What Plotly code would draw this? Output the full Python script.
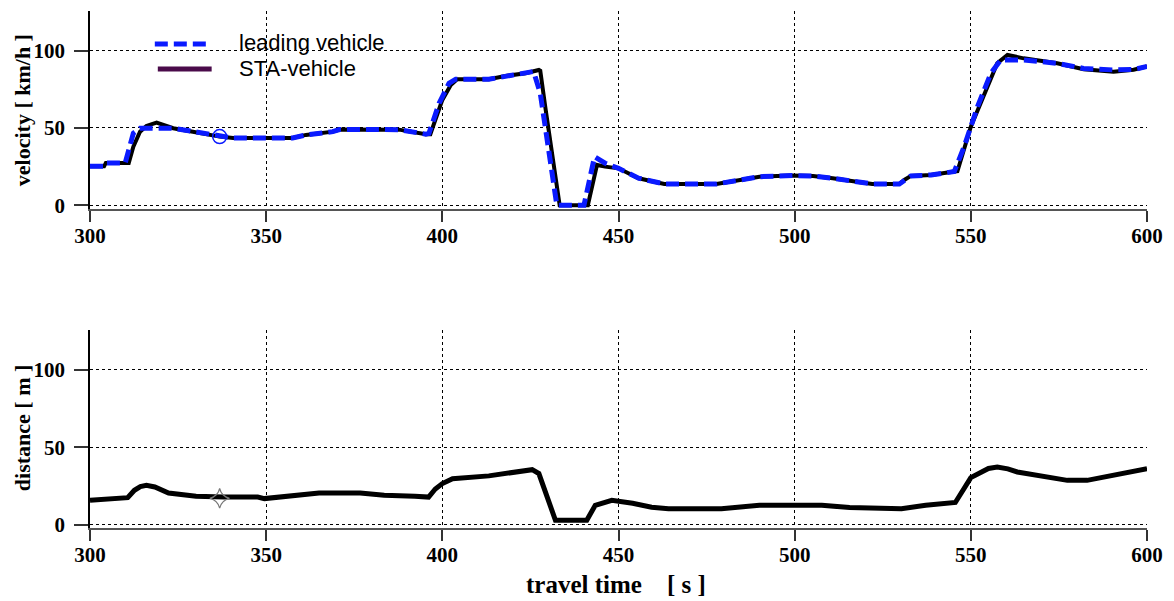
import plotly.graph_objects as go

# ---------------- data ----------------
t_lead = [300, 304, 304.5, 310, 312.3, 314.2, 323.6, 329.2, 333, 336.8, 340.6, 357.5, 361.3, 368.9, 370.8,
          387.7, 395.3, 396.2, 399.1, 401.9, 403.8, 413.2, 417.9, 423.6, 425.9, 427.8, 431.1, 432.5, 440.2,
          441.6, 443.2, 446.2, 450, 455.7, 461.8, 463, 477.8, 478.8, 482.5, 490, 499.5, 505.2, 510.8, 518.4,
          522, 529.7, 531.1, 533, 538.7, 545.3, 548.1, 551.9, 555.7, 558.5, 565, 574.5, 582, 590.5, 596.2, 600]
v_lead = [25.2, 25.2, 27.4, 27.4, 46.6, 49.8, 49.8, 47.6, 45.9, 44.4, 43.5, 43.5, 45.5, 47.6, 49.0,
          48.9, 46.0, 46.5, 66.0, 78.9, 81.5, 81.5, 83.6, 85.4, 86.5, 72.4, 22.8, 0, 0,
          15.0, 31.4, 27.2, 23.9, 17.5, 14.2, 13.8, 13.8, 14.2, 15.9, 18.5, 19.2, 19.0, 17.5, 14.9,
          13.8, 13.8, 16.4, 19.0, 19.6, 21.8, 37.9, 63.8, 85.4, 94.0, 94.0, 91.8, 88.5, 87.5, 87.8, 89.7]

t_sta = [300, 304, 304.5, 311, 312.3, 314.2, 316, 318.9, 321.7, 323.6, 329.2, 333, 336.8, 340.6, 357.5,
         361.3, 368.9, 370.8, 387.7, 395.3, 396.6, 400, 402.4, 404.2, 413.2, 417.9, 423.6, 427.4, 427.8,
         429.2, 431.1, 433.3, 441.3, 443.9, 446.2, 450, 455.7, 461.8, 463, 477.8, 478.8, 482.5, 490, 499.5,
         505.2, 510.8, 518.4, 522, 529.7, 531.1, 533, 538.7, 545.3, 546.2, 550, 553.8, 557.5, 560.4, 565,
         574.5, 582, 590.5, 596.2, 600]
v_sta = [25.2, 25.2, 27.4, 27.4, 37.9, 47.6, 51.3, 53.5, 51.3, 49.8, 47.6, 45.9, 44.4, 43.5, 43.5,
         45.5, 47.6, 49.0, 48.9, 46.0, 46.0, 68.1, 77.8, 81.5, 81.5, 83.6, 85.4, 87.5, 87.0,
         63.8, 33.6, 0, 0, 26.1, 25.0, 23.9, 17.5, 14.2, 13.8, 13.8, 14.2, 15.9, 18.5, 19.2,
         19.0, 17.5, 14.9, 13.8, 13.8, 16.4, 19.0, 19.6, 21.8, 22.0, 50.8, 72.4, 91.8, 97.2, 95.0,
         91.8, 88.0, 86.4, 87.6, 89.7]

t_dist = [300, 310.7, 312.6, 314.3, 316, 318.4, 322.3, 330.1, 337.9, 347.6, 349.5, 357.3, 365, 376.7, 383.5,
          392.2, 396.1, 398, 400, 402.9, 410.7, 413.2, 425.5, 427.4, 432.1, 441, 443.4, 448.1, 454, 459.4,
          464.2, 479.2, 490, 507.7, 515.6, 522.5, 530.3, 537.2, 545.6, 550, 552.8, 555, 557.5, 560.5, 563.2,
          570.8, 577.4, 583, 589.6, 595.3, 600]
d_dist = [15.7, 17.4, 22.2, 24.6, 25.4, 24.3, 20.4, 18.3, 17.8, 17.8, 16.8, 18.3, 20.4, 20.4, 18.9,
          18.3, 17.8, 23.0, 26.5, 29.7, 30.7, 31.5, 35.5, 33.0, 2.8, 2.8, 12.5, 15.7, 13.8, 11.2,
          10.3, 10.3, 12.5, 12.5, 11.0, 10.3, 10.3, 12.5, 14.3, 30.4, 34.0, 36.3, 37.2, 36.0, 34.0,
          30.8, 28.6, 28.6, 31.8, 34.6, 36.2]

cursor_t = [336.8]
cursor_v = [44.4]
cursor_d = [17.0]

x_ticks = [300, 350, 400, 450, 500, 550, 600]
y_ticks = [0, 50, 100]
legend_names = ["leading vehicle", "STA-vehicle"]

# ---------------- style ----------------
W, H = 1174, 601
ML, MR, MT, MB = 90, 24, 11, 73
BLUE = "#0a1aff"
PURPLE = "#4a0b4a"
serif = "Liberation Serif, Times New Roman, serif"
sans = "Liberation Sans, Arial, sans-serif"
ph = H - MT - MB
top_dom = [1 - 197.7 / ph, 1.0]
bot_dom = [0.0, 197.7 / ph]

fig = go.Figure()
fig.add_trace(go.Scatter(x=t_sta, y=v_sta, mode="lines", line=dict(color="black", width=4),
                         xaxis="x", yaxis="y", showlegend=False))
fig.add_trace(go.Scatter(x=t_lead, y=v_lead, mode="lines",
                         line=dict(color=BLUE, width=5, dash="13px,6px"),
                         xaxis="x", yaxis="y", showlegend=False))
fig.add_trace(go.Scatter(x=cursor_t, y=cursor_v, mode="markers",
                         marker=dict(symbol="circle-open", size=14, color=BLUE, line=dict(width=1.5)),
                         xaxis="x", yaxis="y", showlegend=False))
fig.add_trace(go.Scatter(x=t_dist, y=d_dist, mode="lines", line=dict(color="black", width=5),
                         xaxis="x2", yaxis="y2", showlegend=False))
fig.add_trace(go.Scatter(x=cursor_t, y=cursor_d, mode="markers",
                         marker=dict(symbol="star-diamond-open", size=14, color="#777777",
                                     line=dict(width=1.2)),
                         xaxis="x2", yaxis="y2", showlegend=False))

xax = dict(range=[300, 600], tickvals=x_ticks, showgrid=True, gridcolor="black", gridwidth=1,
           griddash="3px,3px", showline=True, linecolor="#555555", linewidth=2,
           ticks="outside", ticklen=11, tickwidth=1.5, tickcolor="#333333", ticklabelstandoff=-4,
           tickfont=dict(family=serif, size=21, color="black", weight="bold"),
           zeroline=False, fixedrange=True)
yax = dict(range=[-2.2, 125.6], tickvals=y_ticks, showgrid=True, gridcolor="black", gridwidth=1,
           griddash="3px,3px", showline=True, linecolor="black", linewidth=1.5,
           ticks="outside", ticklen=14, tickwidth=1.5, tickcolor="#333333", ticklabelstandoff=5,
           tickfont=dict(family=serif, size=21, color="black", weight="bold"),
           zeroline=False, fixedrange=True)

fig.update_layout(
    width=W, height=H, margin=dict(l=ML, r=MR, t=MT, b=MB, pad=0),
    paper_bgcolor="white", plot_bgcolor="white", showlegend=False,
    xaxis=dict(xax, domain=[0, 1], anchor="y"),
    yaxis=dict(yax, domain=top_dom, anchor="x"),
    xaxis2=dict(xax, domain=[0, 1], anchor="y2"),
    yaxis2=dict(yax, domain=bot_dom, anchor="x2"),
)

def px_x(p):
    return (p - ML) / (W - ML - MR)

def px_y(p):
    return (H - MB - p) / ph

# legend drawn manually (line samples + labels)
fig.add_shape(type="line", xref="paper", yref="paper", x0=px_x(155), x1=px_x(207), y0=px_y(44), y1=px_y(44),
              line=dict(color=BLUE, width=5, dash="13px,6px"))
fig.add_shape(type="line", xref="paper", yref="paper", x0=px_x(158), x1=px_x(212), y0=px_y(69), y1=px_y(69),
              line=dict(color=PURPLE, width=5))
for name, yy in zip(legend_names, [42, 68]):
    fig.add_annotation(text=name, xref="paper", yref="paper", x=px_x(237), y=px_y(yy),
                       xanchor="left", yanchor="middle", showarrow=False,
                       font=dict(family=sans, size=22, color="black"))

# axis titles
fig.add_annotation(text="velocity [ km/h ]", xref="paper", yref="paper", x=px_x(22), y=px_y(110),
                   textangle=-90, showarrow=False, xanchor="center", yanchor="middle",
                   font=dict(family=serif, size=22, color="black", weight="bold"))
fig.add_annotation(text="distance [ m ]", xref="paper", yref="paper", x=px_x(22), y=px_y(428),
                   textangle=-90, showarrow=False, xanchor="center", yanchor="middle",
                   font=dict(family=serif, size=22, color="black", weight="bold"))
fig.add_annotation(text="travel time\u00a0\u00a0\u00a0\u00a0[ s ]", xref="paper", yref="paper",
                   x=px_x(617), y=px_y(584), showarrow=False, xanchor="center", yanchor="middle",
                   font=dict(family=serif, size=25, color="black", weight="bold"))

fig.write_html("out.html", config={"displayModeBar": False},
               post_script="document.body.style.margin='0';document.body.style.overflow='hidden';")
